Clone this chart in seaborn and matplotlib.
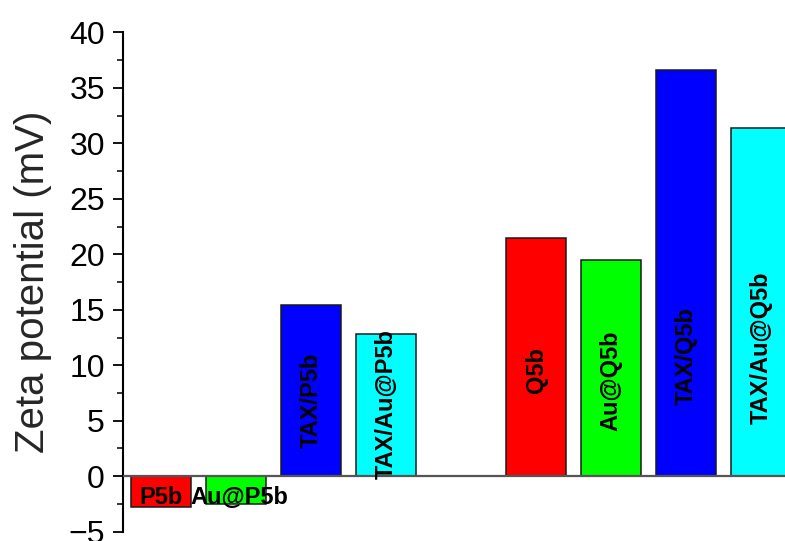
import matplotlib
matplotlib.use("Agg")
import matplotlib.pyplot as plt
from matplotlib.ticker import MultipleLocator
import numpy as np
import pandas as pd
import seaborn as sns

# Zeta potential of each formulation (mV)
samples = ["P5b", "Au@P5b", "TAX/P5b", "TAX/Au@P5b",
           "Q5b", "Au@Q5b", "TAX/Q5b", "TAX/Au@Q5b"]
zeta_mv = [-2.8, -2.5, 15.4, 12.8, 21.5, 19.5, 36.6, 31.4]

# Bar slots: the two series are separated by one empty slot
slots = [1, 2, 3, 4, 6, 7, 8, 9]
bar_colors = ["#FF0000", "#00FF00", "#0000FF", "#00FFFF",
              "#FF0000", "#00FF00", "#0000FF", "#00FFFF"]

# Where each name is written (y in data units) and whether it is turned upright
label_y = [-1.9, -1.9, 6.85, 6.5, 9.55, 8.65, 10.8, 11.6]
label_upright = [False, False, True, True, True, True, True, True]

df = pd.DataFrame({"slot": slots, "zeta": zeta_mv, "sample": samples})

sns.set_style("ticks")
plt.rcParams["font.family"] = ["Liberation Sans", "DejaVu Sans"]

fig = plt.figure(figsize=(7.85, 5.41), dpi=100)
ax = fig.add_axes([0.1567, 0.0172, 0.8433, 0.9228])

sns.barplot(data=df, x="slot", y="zeta", hue="sample",
            palette=dict(zip(samples, bar_colors)), saturation=1,
            native_scale=True, dodge=False, legend=False, width=0.8,
            errorbar=None, edgecolor="#1a1a1a", linewidth=1.1, ax=ax,
            zorder=2)

ax.axhline(0, color="#555555", linewidth=1.6, zorder=3)

for x, y, name, upright in zip(slots, label_y, samples, label_upright):
    ax.text(x + (0.05 if name == "Au@P5b" else 0.0), y, name,
            rotation=90 if upright else 0, ha="center", va="center",
            fontsize=17, fontweight="bold", color="black", zorder=4)

ax.set_xlim(0.493, 9.32)
ax.set_ylim(-5, 40)
ax.yaxis.set_major_locator(MultipleLocator(5))
ax.yaxis.set_minor_locator(MultipleLocator(2.5))
ax.tick_params(axis="y", which="major", direction="out", length=7,
               width=1.3, labelsize=23, pad=6, colors="black")
ax.tick_params(axis="y", which="minor", direction="out", length=4, width=1.3)
ax.set_xticks([])
ax.set_xlabel("")
ax.set_ylabel("Zeta potential (mV)", fontsize=29)
ax.yaxis.set_label_coords(-0.107, 0.5)

for side in ("top", "right", "bottom"):
    ax.spines[side].set_visible(False)
ax.spines["left"].set_linewidth(1.5)
ax.spines["left"].set_color("black")

fig.savefig("out.png", dpi=100)
